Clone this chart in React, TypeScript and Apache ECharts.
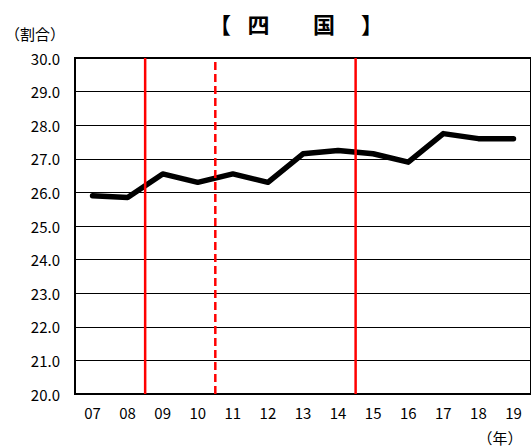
import React, { useEffect, useRef } from "react";
import * as echarts from "echarts";

const categories = ["07", "08", "09", "10", "11", "12", "13", "14", "15", "16", "17", "18", "19"];
const shikokuValues = [25.9, 25.85, 26.55, 26.3, 26.55, 26.3, 27.15, 27.25, 27.15, 26.9, 27.75, 27.6, 27.6];
const yTicks = [20, 21, 22, 23, 24, 25, 26, 27, 28, 29, 30];
// boundaries (in category-width units from the left edge) where red marker lines sit
const solidBoundaries = [2, 8];
const dashedBoundaries = [4];

const FONT = "'Noto Sans CJK JP', 'Liberation Sans', sans-serif";

export default function App() {
  const ref = useRef<HTMLDivElement>(null);
  useEffect(() => {
    document.body.style.margin = "0";
    const chart = echarts.init(ref.current!, null, { renderer: "svg" });
    const redSeries: any[] = [];
    solidBoundaries.forEach((b) => {
      redSeries.push({
        type: "line",
        xAxisIndex: 1,
        yAxisIndex: 0,
        data: [[b, yTicks[0]], [b, yTicks[yTicks.length - 1]]],
        symbol: "none",
        lineStyle: { color: "#ff0000", width: 2.5, type: "solid" },
        z: 5,
      });
    });
    dashedBoundaries.forEach((b) => {
      redSeries.push({
        type: "line",
        xAxisIndex: 1,
        yAxisIndex: 0,
        data: [[b, yTicks[0]], [b, yTicks[yTicks.length - 1]]],
        symbol: "none",
        lineStyle: { color: "#ff0000", width: 2.5, type: [8, 4] },
        z: 5,
      });
    });
    const titleFont = `bold 22px ${FONT}`;
    const titleText = (text: string, x: number, align: string) => ({
      type: "text",
      x,
      y: 23,
      style: { text, font: titleFont, fill: "#000", textAlign: align, textVerticalAlign: "middle" },
    });
    chart.setOption({
      animation: false,
      textStyle: { fontFamily: FONT },
      grid: {
        left: 75,
        top: 58,
        bottom: 54,
        width: 458,
        show: true,
        borderColor: "#000",
        borderWidth: 2,
        backgroundColor: "transparent",
      },
      graphic: [
        titleText("【", 231, "right"),
        titleText("四", 258.5, "center"),
        titleText("国", 324, "center"),
        titleText("】", 361, "left"),
        {
          type: "text",
          x: 5,
          y: 33,
          style: {
            text: "（割合）",
            font: `15px ${FONT}`,
            fill: "#000",
            textAlign: "left",
            textVerticalAlign: "middle",
          },
        },
        {
          type: "text",
          x: 500,
          y: 437,
          style: {
            text: "（年）",
            font: `15px ${FONT}`,
            fill: "#000",
            textAlign: "center",
            textVerticalAlign: "middle",
          },
        },
      ],
      xAxis: [
        {
          type: "category",
          data: categories,
          boundaryGap: true,
          axisLine: { show: true, lineStyle: { color: "#000", width: 2 } },
          axisTick: { show: false },
          axisLabel: { color: "#000", fontSize: 15, margin: 11, fontFamily: FONT },
          splitLine: { show: false },
        },
        {
          type: "value",
          min: 0,
          max: categories.length,
          show: false,
        },
      ],
      yAxis: {
        type: "value",
        min: 20,
        max: 30,
        interval: 1,
        axisLine: { show: true, lineStyle: { color: "#000", width: 2 } },
        axisTick: { show: false },
        axisLabel: {
          color: "#000",
          fontSize: 15,
          margin: 15,
          fontFamily: FONT,
          formatter: (v: number) => v.toFixed(1),
        },
        splitLine: { show: true, lineStyle: { color: "#000", width: 1 } },
      },
      series: [
        {
          type: "line",
          data: shikokuValues,
          symbol: "none",
          lineStyle: { color: "#000", width: 5.5, cap: "round", join: "round" },
          z: 3,
        },
        ...redSeries,
      ],
    });
    return () => chart.dispose();
  }, []);
  return <div ref={ref} style={{ width: 531, height: 448 }} />;
}
